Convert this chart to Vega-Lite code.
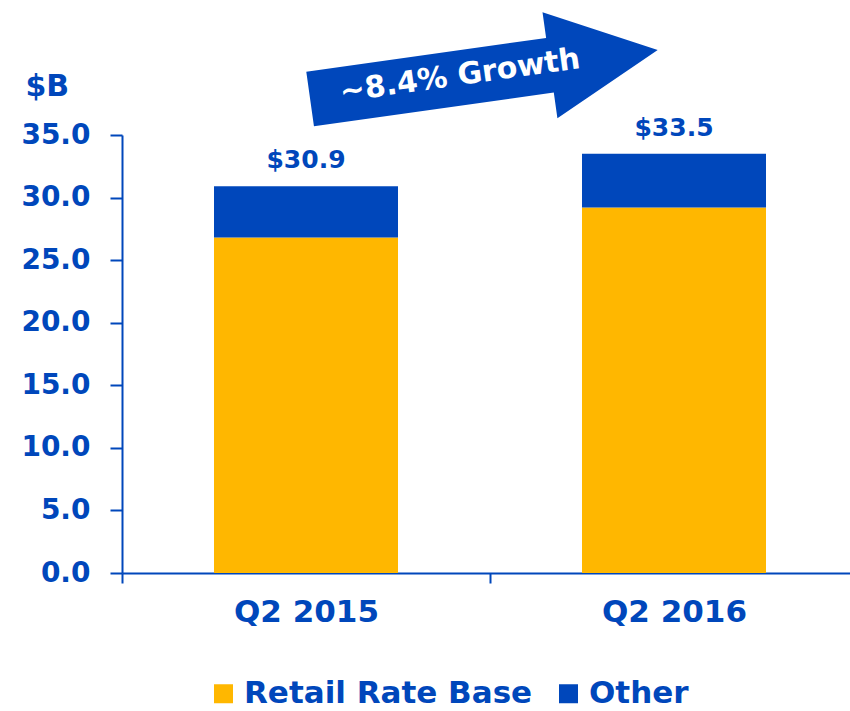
{
  "$schema": "https://vega.github.io/schema/vega-lite/v6.json",
  "autosize": {"type": "none"},
  "width": 736,
  "height": 438,
  "padding": {"left": 122, "top": 135, "right": 0, "bottom": 138},
  "background": "white",
  "config": {"font": "DejaVu Sans", "view": {"stroke": null}},
  "datasets": {
    "bars": [
      {"quarter": "Q2 2015", "segment": "Retail Rate Base", "value": 26.8, "order": 1},
      {"quarter": "Q2 2015", "segment": "Other", "value": 4.1, "order": 2},
      {"quarter": "Q2 2016", "segment": "Retail Rate Base", "value": 29.2, "order": 1},
      {"quarter": "Q2 2016", "segment": "Other", "value": 4.3, "order": 2}
    ],
    "growth": [
      {"quarter": "Q2 2016", "label": "~8.4% Growth", "y": 39.9}
    ]
  },
  "layer": [
    {
      "data": {"name": "bars"},
      "mark": {"type": "bar", "width": {"band": 0.5}},
      "encoding": {
        "x": {
          "field": "quarter", "type": "nominal",
          "scale": {"paddingInner": 0, "paddingOuter": 0},
          "axis": {
            "title": null, "labelAngle": 0, "labelFontSize": 31, "labelFontWeight": "bold",
            "labelColor": "#0047BB", "domainColor": "#0047BB", "domainWidth": 2,
            "tickColor": "#0047BB", "tickWidth": 2, "tickSize": 10, "tickBand": "extent",
            "labelPadding": 14
          }
        },
        "y": {
          "field": "value", "type": "quantitative", "stack": "zero",
          "scale": {"domain": [0, 35]},
          "axis": {
            "values": [0, 5, 10, 15, 20, 25, 30, 35], "format": ".1f", "grid": false,
            "labelFontSize": 28, "labelFontWeight": "bold", "labelColor": "#0047BB",
            "domainColor": "#0047BB", "domainWidth": 2, "tickColor": "#0047BB", "tickWidth": 2,
            "tickSize": 12, "labelPadding": 20,
            "title": "$B", "titleAngle": 0, "titleAlign": "left", "titleBaseline": "alphabetic",
            "titleX": -97, "titleY": -40, "titleFontSize": 30, "titleColor": "#0047BB", "titleFontWeight": "bold"
          }
        },
        "color": {
          "field": "segment", "type": "nominal",
          "scale": {"domain": ["Retail Rate Base", "Other"], "range": ["#FFB700", "#0047BB"]},
          "legend": {
            "title": null, "orient": "none", "legendX": 86, "legendY": 543, "direction": "horizontal",
            "symbolType": "square", "symbolSize": 361, "symbolStrokeWidth": 0,
            "labelFontSize": 31, "labelFontWeight": "bold", "labelColor": "#0047BB",
            "labelOffset": 5, "columnPadding": 20, "labelLimit": 400
          }
        },
        "order": {"field": "order", "type": "quantitative"}
      }
    },
    {
      "data": {"name": "bars"},
      "transform": [{"aggregate": [{"op": "sum", "field": "value", "as": "total"}], "groupby": ["quarter"]}],
      "mark": {"type": "text", "baseline": "alphabetic", "dy": -18, "fontSize": 25, "fontWeight": "bold", "color": "#0047BB"},
      "encoding": {
        "x": {"field": "quarter", "type": "nominal"},
        "y": {"field": "total", "type": "quantitative", "scale": {"domain": [0, 35]}},
        "text": {"field": "total", "type": "quantitative", "format": "$.1f"}
      }
    },
    {
      "data": {"name": "growth"},
      "mark": {
        "type": "point",
        "shape": "M-1.035,-0.157L0.345,-0.157L0.345,-0.305L0.965,0L0.345,0.305L0.345,0.157L-1.035,0.157Z",
        "size": 123201, "filled": true, "opacity": 1, "angle": -8, "color": "#0047BB", "strokeWidth": 0
      },
      "encoding": {
        "x": {"field": "quarter", "type": "nominal", "bandPosition": 0},
        "y": {"field": "y", "type": "quantitative", "scale": {"domain": [0, 35]}}
      }
    },
    {
      "data": {"name": "growth"},
      "mark": {"type": "text", "angle": -8, "dx": -30, "dy": -2, "align": "center", "baseline": "middle",
               "fontSize": 30, "fontWeight": "bold", "color": "white"},
      "encoding": {
        "x": {"field": "quarter", "type": "nominal", "bandPosition": 0},
        "y": {"field": "y", "type": "quantitative", "scale": {"domain": [0, 35]}},
        "text": {"field": "label", "type": "nominal"}
      }
    }
  ]
}
